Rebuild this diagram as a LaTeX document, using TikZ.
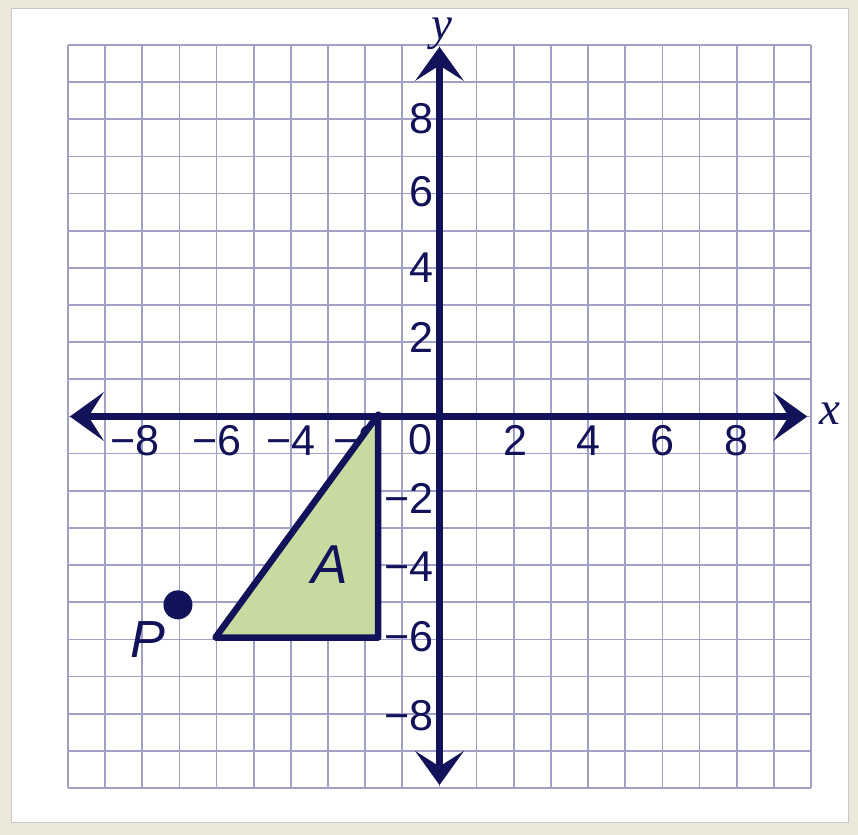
\documentclass[tikz,border=0pt]{standalone}
\usepackage{fontspec}
\setmainfont{Liberation Sans}
\newfontfamily\tnr{Liberation Serif}
\usetikzlibrary{arrows.meta}
\definecolor{navy}{RGB}{18,18,90}
\definecolor{gridc}{RGB}{160,160,200}
\definecolor{trifill}{RGB}{199,219,160}
\definecolor{beige}{RGB}{236,232,218}
\tikzset{
  gridline/.style={draw=gridc, line width=1.3pt},
  axisline/.style={draw=navy, line width=5.3pt,
    {Stealth[length=0.92cm, width=1.32cm, inset=0.42cm, line width=0pt]}-{Stealth[length=0.92cm, width=1.32cm, inset=0.42cm, line width=0pt]}},
  numlab/.style={text=navy, inner sep=0pt, font=\fontsize{33}{36}\selectfont},
  ylab/.style={numlab, anchor=east},
  tri/.style={draw=navy, line width=5pt, fill=trifill, line join=round},
  biglab/.style={text=navy, inner sep=0pt, font=\fontsize{42}{46}\selectfont\itshape},
  axlab/.style={text=navy, inner sep=0pt, font=\fontsize{36}{40}\selectfont\tnr\itshape},
}
\begin{document}
\begin{tikzpicture}
\useasboundingbox (-11.830,-11.265) rectangle (11.265,11.211);
\fill[beige] (-11.830,-11.265) rectangle (11.265,11.211);
\draw[fill=white, draw=black!22, line width=0.6pt] (-11.534,-10.915) rectangle (10.996,10.996);
% grid
\draw[gridline] (-10,-10) grid (10,10);
% x-axis labels
\node[numlab] (lxm8) at (-8.2,-0.65) {−8};
\node[numlab] (lxm6) at (-6,-0.65) {−6};
\node[numlab] (lxm4) at (-4,-0.65) {−4};
\node[numlab] (lxm2) at (-2.2,-0.65) {−2};
\node[numlab] (lx0) at (-0.5,-0.63) {0};
\node[numlab] (lx2) at (2.05,-0.65) {2};
\node[numlab] (lx4) at (4,-0.65) {4};
\node[numlab] (lx6) at (6,-0.65) {6};
\node[numlab] (lx8) at (8,-0.65) {8};
% y-axis labels
\node[ylab] (ly8) at (-0.15,8.02) {8};
\node[ylab] (ly6) at (-0.15,6.05) {6};
\node[ylab] (ly4) at (-0.15,4) {4};
\node[ylab] (ly2) at (-0.15,2.12) {2};
\node[ylab] (lym2) at (-0.15,-2.2) {−2};
\node[ylab] (lym4) at (-0.15,-4.05) {−4};
\node[ylab] (lym6) at (-0.15,-5.93) {−6};
\node[ylab] (lym8) at (-0.15,-8.05) {−8};
% axes
\coordinate (xl) at (-9.95,0);
\coordinate (xr) at (9.9,0);
\coordinate (yb) at (0,-9.92);
\coordinate (yt) at (0,9.95);
\draw[axisline] (xl) -- (xr);
\draw[axisline] (yb) -- (yt);
\node[axlab] (xname) at (10.5,0.07) {x};
\node[axlab] (yname) at (0.07,10.3) {y};
% triangle A
\coordinate (t1) at (-6.03,-5.95);
\coordinate (t2) at (-1.65,-5.95);
\coordinate (t3) at (-1.65,0.05);
\draw[tri] (t1) -- (t2) -- (t3) -- cycle;
\node[biglab] (A) at (-2.95,-4.0) {A};
% point P
\fill[navy] (-7.04,-5.07) circle (0.39);
\coordinate (Pdot) at (-7.04,-5.07);
\node[biglab, font=\fontsize{40}{44}\selectfont\itshape] (P) at (-7.85,-6.0) {P};
\end{tikzpicture}
\end{document}
